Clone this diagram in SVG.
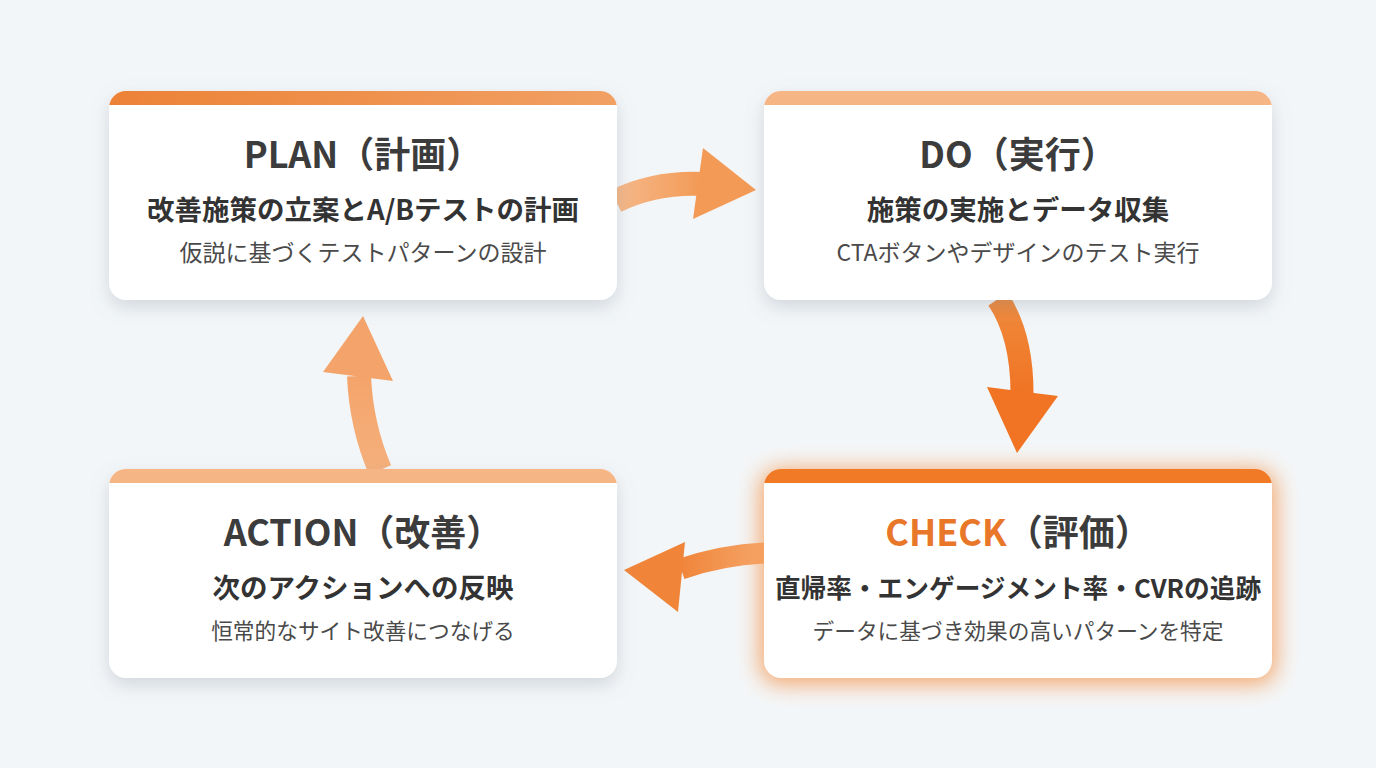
<svg xmlns="http://www.w3.org/2000/svg" width="1376" height="768" viewBox="0 0 1376 768">
<defs>
<style>
.card{fill:#ffffff}
.t1{font-family:"Noto Sans CJK JP","Noto Sans",sans-serif;font-weight:700;font-size:36px;fill:#3c3c3c;text-anchor:middle}
.t2{font-family:"Noto Sans CJK JP","Noto Sans",sans-serif;font-weight:700;font-size:27.5px;fill:#333333;text-anchor:middle}
.t3{font-family:"Noto Sans CJK JP","Noto Sans",sans-serif;font-weight:400;font-size:23px;fill:#4a4a4a;text-anchor:middle}
.t3s{font-size:21.7px}
.hl{fill:#e8772a}
</style>
<clipPath id="cc"><rect x="0" y="0" width="508" height="209" rx="17"/></clipPath>
<filter id="sh" x="-10%" y="-15%" width="120%" height="140%">
<feDropShadow dx="0" dy="7" stdDeviation="9" flood-color="#6f8090" flood-opacity="0.26"/>
</filter>
<filter id="glow" x="-20%" y="-30%" width="140%" height="160%">
<feGaussianBlur stdDeviation="11"/>
</filter>
<linearGradient id="barPlan" x1="0" y1="0" x2="1" y2="0">
<stop offset="0" stop-color="#ec8236"/><stop offset="1" stop-color="#f1a064"/>
</linearGradient>
<linearGradient id="a1" x1="0" y1="0" x2="1" y2="0">
<stop offset="0" stop-color="#f6b98a"/><stop offset="1" stop-color="#f39a56"/>
</linearGradient>
<linearGradient id="a2" x1="0" y1="0" x2="0" y2="1">
<stop offset="0" stop-color="#f08a3c"/><stop offset="1" stop-color="#f07424"/>
</linearGradient>
<linearGradient id="a3" x1="1" y1="0" x2="0" y2="0">
<stop offset="0" stop-color="#f5a66a"/><stop offset="1" stop-color="#f0853a"/>
</linearGradient>
<linearGradient id="a4" x1="0" y1="1" x2="0" y2="0">
<stop offset="0" stop-color="#f5b07c"/><stop offset="1" stop-color="#f4a46a"/>
</linearGradient>
</defs>
<rect width="1376" height="768" fill="#f3f6f8"/>

<g id="connectors">
<g id="plan-do">
<path d="M 616 201 Q 655 182 702 184" fill="none" stroke="url(#a1)" stroke-width="24"/>
<polygon points="703,148 756,190 693,219" fill="#f39a56"/>
</g>
<g id="do-check">
<path d="M 998 299 Q 1022 335 1022 393" fill="none" stroke="url(#a2)" stroke-width="23"/>
<polygon points="987,387 1058,396 1017,453" fill="#f07424"/>
</g>
<g id="check-action">
<path d="M 765 553 Q 722 555 681 569" fill="none" stroke="url(#a3)" stroke-width="21"/>
<polygon points="685,542 624,570 678,612" fill="#f0853a"/>
</g>
<g id="action-plan">
<path d="M 380 470 Q 361 425 359 376" fill="none" stroke="url(#a4)" stroke-width="24"/>
<polygon points="323,372 363,316 393,381" fill="#f4a46a"/>
</g>
</g>

<g id="plan" transform="translate(109,91)">
<rect class="card" width="508" height="209" rx="17" filter="url(#sh)"/>
<g clip-path="url(#cc)"><rect width="508" height="14" fill="url(#barPlan)"/></g>
<text class="t1" x="254" y="77">PLAN（計画）</text>
<text class="t2" x="254" y="129">改善施策の立案とA/Bテストの計画</text>
<text class="t3" x="254" y="170">仮説に基づくテストパターンの設計</text>
</g>

<g id="do" transform="translate(764,91)">
<rect class="card" width="508" height="209" rx="17" filter="url(#sh)"/>
<g clip-path="url(#cc)"><rect width="508" height="14" fill="#f6b585"/></g>
<text class="t1" x="254" y="77">DO（実行）</text>
<text class="t2" x="254" y="129">施策の実施とデータ収集</text>
<text class="t3" x="254" y="170">CTAボタンやデザインのテスト実行</text>
</g>

<g id="check" transform="translate(764,469)">
<rect x="-4" y="0" width="516" height="215" rx="20" fill="#f59a55" opacity="0.85" filter="url(#glow)"/>
<rect class="card" width="508" height="209" rx="17"/>
<g clip-path="url(#cc)"><rect width="508" height="14" fill="#f07a26"/></g>
<text class="t1" x="254" y="77"><tspan class="hl">CHECK</tspan>（評価）</text>
<text class="t2" x="254" y="129" style="font-size:25.7px">直帰率・エンゲージメント率・CVRの追跡</text>
<text class="t3 t3s" x="254" y="170">データに基づき効果の高いパターンを特定</text>
</g>

<g id="action" transform="translate(109,469)">
<rect class="card" width="508" height="209" rx="17" filter="url(#sh)"/>
<g clip-path="url(#cc)"><rect width="508" height="14" fill="#f6b585"/></g>
<text class="t1" x="254" y="77">ACTION（改善）</text>
<text class="t2" x="254" y="129">次のアクションへの反映</text>
<text class="t3 t3s" x="254" y="170">恒常的なサイト改善につなげる</text>
</g>
</svg>
